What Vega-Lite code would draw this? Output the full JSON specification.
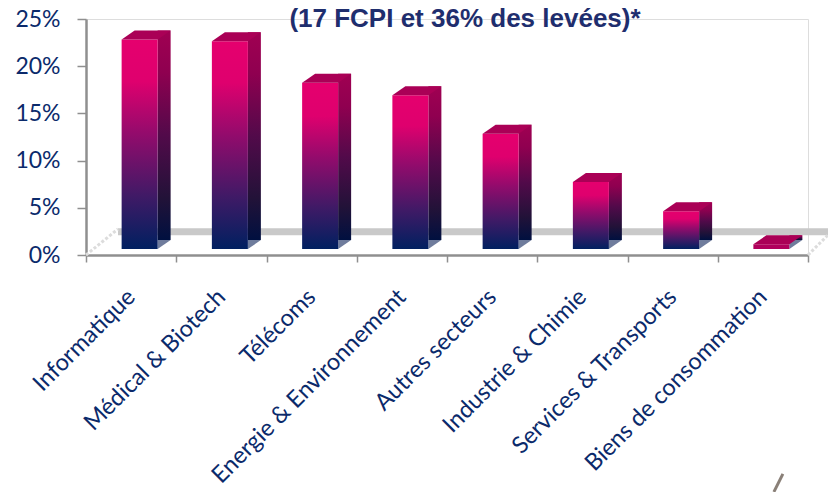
{
"$schema":"https://vega.github.io/schema/vega-lite/v6.json",
"width":722,"height":236,
"autosize":{"type":"none"},
"padding":{"left":86,"top":19,"right":20,"bottom":237},
"background":"white",
"title":{"text":"(17 FCPI et 36% des levées)*","font":"Liberation Sans","fontSize":26,"fontWeight":"bold","color":"#1f2e6e","anchor":"middle","dx":18,"offset":-24},
"data":{"values":[
{"secteur":"Informatique","part":22.2},
{"secteur":"Médical & Biotech","part":22.0},
{"secteur":"Télécoms","part":17.6},
{"secteur":"Energie & Environnement","part":16.3},
{"secteur":"Autres secteurs","part":12.2},
{"secteur":"Industrie & Chimie","part":7.1},
{"secteur":"Services & Transports","part":4.0},
{"secteur":"Biens de consommation","part":0.5}
]},
"encoding":{
"x":{"field":"secteur","type":"nominal","sort":null,"scale":{"domain":["Informatique","Médical & Biotech","Télécoms","Energie & Environnement","Autres secteurs","Industrie & Chimie","Services & Transports","Biens de consommation"],"paddingInner":0,"paddingOuter":0},
"axis":{"title":null,"labelAngle":-45,"labelAlign":"right","labelBaseline":"middle","labelFont":"Lato","labelFontSize":23.5,"labelColor":"#0b2a6b","labelPadding":31,"labelLimit":400,"labelOverlap":false,"tickBand":"extent","tickSize":7,"tickColor":"#8f8f8f","tickWidth":1.5,"domainColor":"#8f8f8f","domainWidth":2.5,"grid":false}},
"y":{"field":"part","type":"quantitative","scale":{"domain":[0,25]},
"axis":{"title":null,"values":[0,5,10,15,20,25],"labelExpr":"datum.value+'%'","labelFont":"Lato","labelFontSize":23,"labelColor":"#0b2a6b","labelPadding":17,"tickSize":9,"tickColor":"#8f8f8f","tickWidth":1.5,"domainColor":"#8f8f8f","domainWidth":2.5,"grid":false}}
},
"layer":[
{"transform":[{"filter":"datum.secteur==='Informatique'"}],"mark":{"type":"rule","color":"#c9c9c9","strokeWidth":7,"xOffset":32,"x2Offset":20},"encoding":{"x":{"value":0},"x2":{"value":722},"y":{"datum":2.45,"type":"quantitative"}}},
{"transform":[{"filter":"datum.secteur==='Informatique'"}],"mark":{"type":"point","shape":"M0,0L3.2,-2.6","size":400,"filled":false,"stroke":"#dcdcdc","strokeWidth":3,"strokeDash":[3,2],"opacity":1},"encoding":{"x":{"field":"secteur","type":"nominal","bandPosition":0},"y":{"datum":0,"type":"quantitative"}}},
{"transform":[{"filter":"datum.secteur==='Biens de consommation'"}],"mark":{"type":"point","shape":"M0,0L2,-2","size":400,"filled":false,"stroke":"#dcdcdc","strokeWidth":3,"strokeDash":[3,2],"opacity":1},"encoding":{"x":{"field":"secteur","type":"nominal","bandPosition":1},"y":{"datum":0,"type":"quantitative"}}},
{"mark":{"type":"bar","size":13,"xOffset":33,"yOffset":-15,"color":{"gradient":"linear","x1":0,"y1":0,"x2":0,"y2":1,"stops":[{"offset":0,"color":"#a00052"},{"offset":0.2,"color":"#8f0050"},{"offset":0.5,"color":"#520a4a"},{"offset":0.8,"color":"#221238"},{"offset":1,"color":"#001040"}]}}},
{"mark":{"type":"point","shape":"M1.8,0L3.1,-0.9L1.8,-0.9Z","size":400,"filled":true,"color":"#6f7c9c","opacity":1,"strokeWidth":0,"xOffset":8.5,"yOffset":-6},"encoding":{"y":{"datum":0,"type":"quantitative"}}},
{"transform":[{"filter":"datum.part>=1"}],"mark":{"type":"bar","size":36,"xOffset":8.5,"yOffset":-6,"color":{"gradient":"linear","x1":0,"y1":0,"x2":0,"y2":1,"stops":[{"offset":0,"color":"#e5006e"},{"offset":0.2,"color":"#df006e"},{"offset":0.45,"color":"#930b6c"},{"offset":0.75,"color":"#3f1a66"},{"offset":1,"color":"#002060"}]}}},
{"transform":[{"filter":"datum.part<1"}],"mark":{"type":"bar","size":36,"xOffset":8.5,"yOffset":-6,"color":"#b0005c"}},
{"mark":{"type":"point","shape":"M-1.8,0L1.8,0L3.1,-0.9L-0.5,-0.9Z","size":400,"filled":true,"color":"#aa0056","opacity":1,"strokeWidth":0,"xOffset":8.5,"yOffset":-6}},
{"transform":[{"filter":"datum.secteur==='Biens de consommation'"}],"mark":{"type":"point","shape":"M0,0L0.9,-1.8","size":400,"filled":false,"stroke":"#8a8078","strokeWidth":3,"opacity":1,"xOffset":11},"encoding":{"y":{"datum":-25.1,"type":"quantitative"}}}
]
}
